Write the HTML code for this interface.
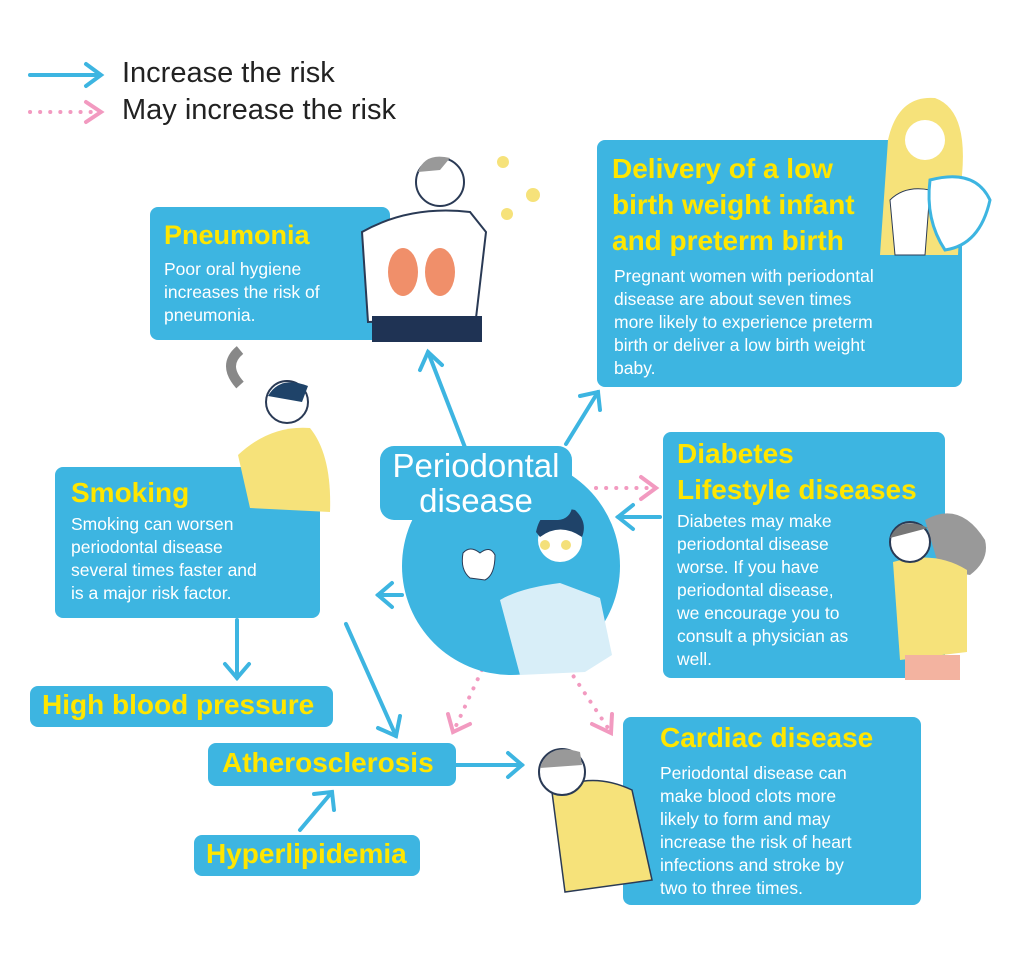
<!DOCTYPE html>
<html><head><meta charset="utf-8"><style>
body{margin:0;width:1024px;height:960px;background:#fff;position:relative;overflow:hidden;font-family:"Liberation Sans","DejaVu Sans",sans-serif}
.b{position:absolute;background:#3db5e1;border-radius:8px;color:#fff}
.t{color:#ffe600;font-weight:bold;position:absolute;white-space:nowrap}
.p{position:absolute;color:#fff;font-size:17.5px;line-height:23px}
.lg{position:absolute;font-size:29px;color:#222}
svg{position:absolute;left:0;top:0}
</style></head><body>
<svg width="1024" height="960">
<g stroke="#3db5e1" stroke-width="4" fill="none" stroke-linecap="round">
<line x1="30" y1="75" x2="100" y2="75"/><path d="M86 64 L101 75 L86 86"/>
<line x1="466" y1="450" x2="428" y2="352"/><path d="M420 370 L428 352 L442 365"/>
<line x1="566" y1="444" x2="598" y2="392"/><path d="M580 396 L598 392 L600 410"/>
<line x1="660" y1="517" x2="618" y2="517"/><path d="M633 505 L618 517 L633 529"/>
<line x1="402" y1="595" x2="378" y2="595"/><path d="M392 583 L378 595 L392 607"/>
<line x1="237" y1="620" x2="237" y2="678"/><path d="M225 664 L237 678 L249 664"/>
<line x1="346" y1="624" x2="396" y2="736"/><path d="M378 728 L396 736 L400 716"/>
<line x1="456" y1="765" x2="522" y2="765"/><path d="M508 753 L522 765 L508 777"/>
<line x1="300" y1="830" x2="332" y2="792"/><path d="M314 794 L332 792 L334 810"/>
</g>
<g stroke="#f29ac0" stroke-width="4" fill="none" stroke-linecap="round">
<line x1="30" y1="112" x2="92" y2="112" stroke-dasharray="0.1 10"/><path d="M86 102 L101 112 L86 122"/>
<line x1="596" y1="488" x2="650" y2="488" stroke-dasharray="0.1 10"/><path d="M641 477 L656 488 L641 499"/>
<line x1="482" y1="670" x2="455" y2="728" stroke-dasharray="0.1 10"/><path d="M448 714 L453 732 L470 724"/>
<line x1="568" y1="668" x2="608" y2="728" stroke-dasharray="0.1 10"/><path d="M592 724 L611 733 L612 714"/>
</g>
<circle cx="511" cy="566" r="109" fill="#3db5e1"/>
</svg>
<div class="lg" style="left:122px;top:57px">Increase the risk</div>
<div class="lg" style="left:122px;top:94px">May increase the risk</div>

<div class="b" style="left:150px;top:207px;width:240px;height:133px"></div>
<div class="t" style="left:164px;top:220px;font-size:27px">Pneumonia</div>
<div class="p" style="left:164px;top:258px">Poor oral hygiene<br>increases the risk of<br>pneumonia.</div>

<div class="b" style="left:597px;top:140px;width:365px;height:247px"></div>
<div class="t" style="left:612px;top:151px;font-size:28px;line-height:36px">Delivery of a low<br>birth weight infant<br>and preterm birth</div>
<div class="p" style="left:614px;top:265px">Pregnant women with periodontal<br>disease are about seven times<br>more likely to experience preterm<br>birth or deliver a low birth weight<br>baby.</div>

<div class="b" style="left:663px;top:432px;width:282px;height:246px"></div>
<div class="t" style="left:677px;top:436px;font-size:28px;line-height:36px">Diabetes<br>Lifestyle diseases</div>
<div class="p" style="left:677px;top:510px">Diabetes may make<br>periodontal disease<br>worse. If you have<br>periodontal disease,<br>we encourage you to<br>consult a physician as<br>well.</div>

<div class="b" style="left:55px;top:467px;width:265px;height:151px"></div>
<div class="t" style="left:71px;top:477px;font-size:28px">Smoking</div>
<div class="p" style="left:71px;top:513px">Smoking can worsen<br>periodontal disease<br>several times faster and<br>is a major risk factor.</div>

<div class="b" style="left:30px;top:686px;width:303px;height:41px"></div>
<div class="t" style="left:42px;top:689px;font-size:28px">High blood pressure</div>
<div class="b" style="left:208px;top:743px;width:248px;height:43px"></div>
<div class="t" style="left:222px;top:747px;font-size:28px">Atherosclerosis</div>
<div class="b" style="left:194px;top:835px;width:226px;height:41px"></div>
<div class="t" style="left:206px;top:838px;font-size:28px">Hyperlipidemia</div>

<div class="b" style="left:623px;top:717px;width:298px;height:188px"></div>
<div class="t" style="left:660px;top:722px;font-size:28px">Cardiac disease</div>
<div class="p" style="left:660px;top:762px">Periodontal disease can<br>make blood clots more<br>likely to form and may<br>increase the risk of heart<br>infections and stroke by<br>two to three times.</div>

<svg width="1024" height="960">
<!-- doctor in circle -->
<path d="M500 600 Q520 588 560 583 L600 598 L612 655 L585 672 L520 675 Z" fill="#d8eef8"/>
<circle cx="560" cy="540" r="22" fill="#fff"/><path d="M536 532 Q542 502 575 510 Q588 522 582 537 Q560 522 540 537Z" fill="#1f4369"/>
<circle cx="545" cy="545" r="5" fill="#f4e07a"/><circle cx="566" cy="545" r="5" fill="#f4e07a"/>
<path d="M463 553 Q470 545 480 553 Q490 545 495 555 Q495 575 485 580 L470 578 Q460 570 463 553Z" fill="#fff" stroke="#2a3a55"/>
<!-- pneumonia man -->
<path d="M362 232 Q410 205 470 212 L486 232 L476 318 L368 322 Z" fill="#fff" stroke="#2a3a55" stroke-width="2"/>
<ellipse cx="403" cy="272" rx="15" ry="24" fill="#f08f6a"/><ellipse cx="440" cy="272" rx="15" ry="24" fill="#f08f6a"/>
<rect x="372" y="316" width="110" height="26" fill="#1f3354"/>
<circle cx="440" cy="182" r="24" fill="#fff" stroke="#2a3a55" stroke-width="2"/>
<path d="M418 172 Q425 152 450 158 L440 170Z" fill="#999"/>
<circle cx="503" cy="162" r="6" fill="#f6e27a"/><circle cx="533" cy="195" r="7" fill="#f6e27a"/><circle cx="507" cy="214" r="6" fill="#f6e27a"/>
<!-- smoking man -->
<path d="M238 455 Q270 425 310 428 Q332 455 330 512 L250 508 Z" fill="#f6e27a"/>
<circle cx="287" cy="402" r="21" fill="#fff" stroke="#2a3a55" stroke-width="2"/><path d="M268 396 Q280 375 308 386 L302 402Z" fill="#1f4369"/>
<path d="M240 385 Q222 365 240 350" stroke="#888" stroke-width="10" fill="none"/>
<!-- mother -->
<path d="M888 140 Q898 95 935 98 Q968 110 962 175 L958 255 L880 255 Z" fill="#f6e27a"/>
<circle cx="925" cy="140" r="20" fill="#fff"/>
<path d="M890 200 Q905 185 930 190 L925 255 L895 255Z" fill="#fff" stroke="#2a3a55"/>
<path d="M930 180 Q975 168 990 200 Q980 245 945 250 Q925 220 930 180Z" fill="#fff" stroke="#3db5e1" stroke-width="3"/>
<!-- diabetes -->
<path d="M925 520 Q960 500 985 540 Q990 560 970 575 L940 570 Z" fill="#999"/>
<path d="M893 562 Q935 550 967 570 L967 652 L900 660 Z" fill="#f6e27a"/>
<rect x="905" y="655" width="55" height="25" fill="#f3b3a0"/>
<circle cx="910" cy="542" r="20" fill="#fff" stroke="#2a3a55" stroke-width="2"/>
<path d="M890 538 Q900 515 928 528 Z" fill="#777"/>
<!-- cardiac man -->
<path d="M552 792 Q590 770 632 790 L652 880 L565 892 Z" fill="#f6e27a" stroke="#2a3a55" stroke-width="1.5"/>
<circle cx="562" cy="772" r="23" fill="#fff" stroke="#2a3a55" stroke-width="2"/>
<path d="M540 768 Q548 742 580 752 L582 765Z" fill="#999"/>
</svg>

<div class="b" style="left:380px;top:446px;width:192px;height:74px;border-radius:14px"></div>
<div style="position:absolute;left:372px;top:448px;width:208px;text-align:center;color:#fff;font-size:33px;line-height:35px">Periodontal<br>disease</div>
</body></html>
